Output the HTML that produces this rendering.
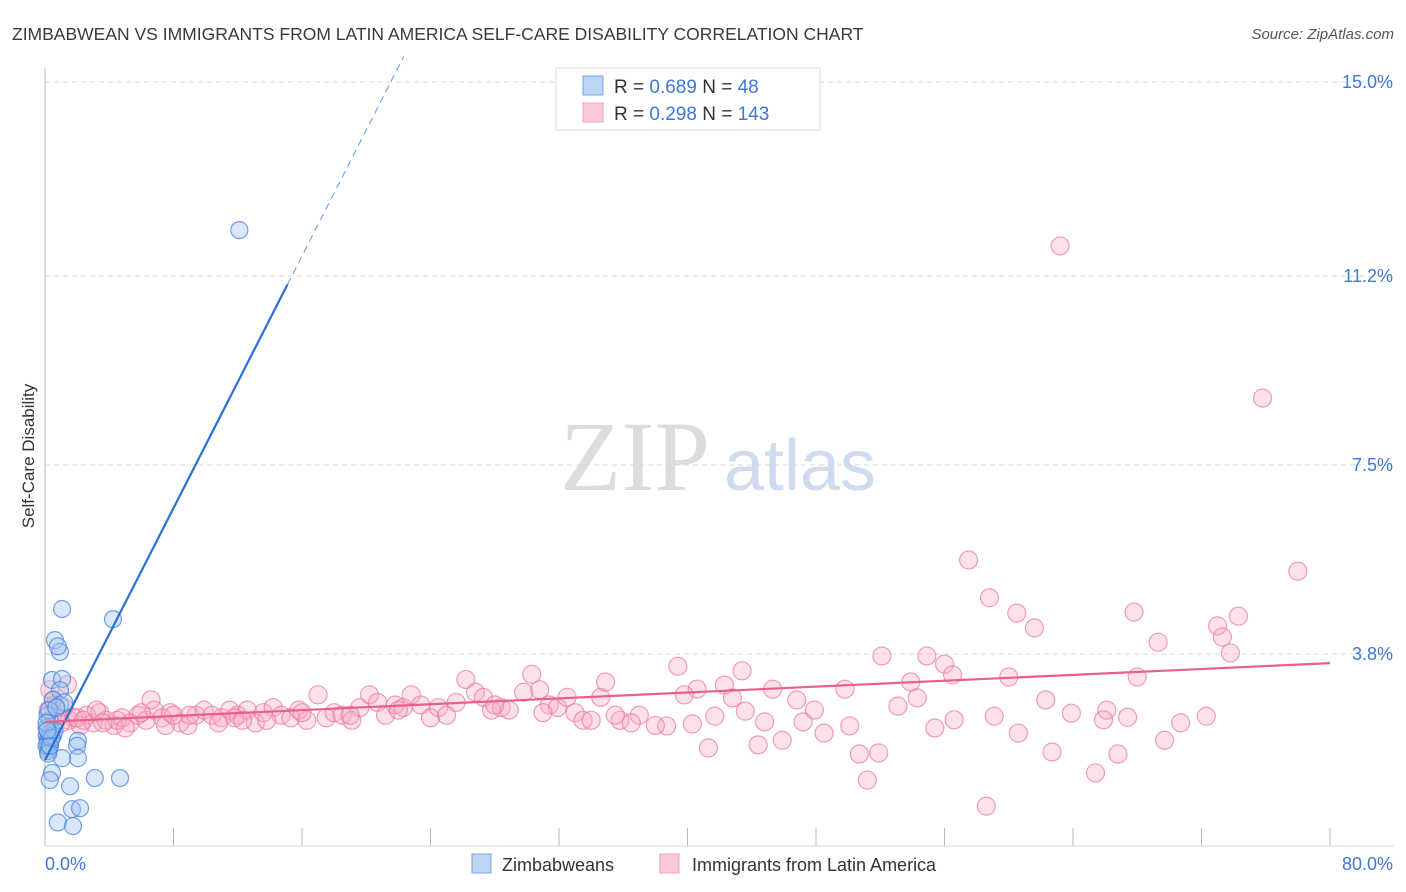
<!DOCTYPE html>
<html><head><meta charset="utf-8"><style>
body{margin:0;background:#fff;font-family:"Liberation Sans",sans-serif;}
svg{display:block}
</style></head><body>
<svg id="chart" width="1406" height="892" viewBox="0 0 1406 892" xmlns="http://www.w3.org/2000/svg">
<text x="12" y="40" font-size="17.5" fill="#3a3a3a" font-family="Liberation Sans">ZIMBABWEAN VS IMMIGRANTS FROM LATIN AMERICA SELF-CARE DISABILITY CORRELATION CHART</text>
<text x="1394" y="39" font-size="15" fill="#555" text-anchor="end" font-style="italic">Source: ZipAtlas.com</text>
<text transform="translate(34,456) rotate(-90)" font-size="17" fill="#333" text-anchor="middle">Self-Care Disability</text>
<g>
<text x="635" y="490" font-size="100" fill="#dcdcdc" font-family="Liberation Serif" text-anchor="middle">ZIP</text>
<text x="800" y="490" font-size="72" fill="#cfdcf0" text-anchor="middle">atlas</text>
</g>
<g id="grid"></g><g id="axes"></g><g id="pink"></g><g id="blue"></g><g id="lines"></g>
<g>
<rect x="556" y="68" width="264" height="62" fill="#fff" stroke="#ddd"/>
<rect x="583" y="76" width="20" height="19" fill="#bcd4f5" stroke="#7aa5e6"/>
<rect x="583" y="103" width="20" height="19" fill="#fbc9d7" stroke="#f0a0b8"/>
<text x="614" y="93" font-size="19" fill="#333">R = <tspan fill="#3e78d6">0.689</tspan>   N = <tspan fill="#3e78d6">  48</tspan></text>
<text x="614" y="120" font-size="19" fill="#333">R = <tspan fill="#3e78d6">0.298</tspan>   N = <tspan fill="#3e78d6">143</tspan></text>
</g>
<g>
<rect x="472" y="854" width="19" height="19" fill="#bcd4f5" stroke="#7aa5e6"/>
<text x="502" y="871" font-size="18" fill="#333">Zimbabweans</text>
<rect x="660" y="854" width="19" height="19" fill="#fbc9d7" stroke="#f0a0b8"/>
<text x="692" y="871" font-size="18" fill="#333">Immigrants from Latin America</text>
</g>
</svg>
<script>
const yTicks=[3.8,7.5,11.2,15.0];
const xTickLabels=["0.0%","80.0%"];
const blueX=[12.1,1.06,4.23,0.62,0.93,0.8,0.44,1.06,0.93,0.5,0.93,0.3,0.4,0.2,0.3,2.05,2.0,2.05,1.06,0.44,0.3,3.1,4.67,1.56,1.68,2.18,0.8,1.74,0.1,0.2,0.15,0.3,0.25,0.1,0.35,0.2,0.1,0.5,0.6,0.15,0.25,0.1,0.4,0.2,0.3,0.15,1.2,0.7];
const blueY=[12.1,4.68,4.48,4.07,3.84,3.95,3.29,3.31,3.09,2.9,2.8,2.5,2.3,2.1,2.0,2.1,2.0,1.76,1.76,1.47,1.33,1.37,1.37,1.21,0.76,0.78,0.5,0.43,2.2,2.15,2.05,2.25,1.95,2.35,2.1,1.9,2.0,2.2,2.3,2.6,2.7,2.45,2.15,1.85,2.0,2.3,2.85,2.75];
const pinkX=[63.2,75.8,57.5,78.0,58.8,60.5,61.6,67.8,74.3,73.0,73.3,69.3,73.8,52.1,54.9,56.0,56.5,39.4,43.4,60.0,68.0,53.9,42.3,49.8,45.3,40.6,39.8,54.3,46.8,62.3,42.8,41.3,44.4,45.9,50.7,51.9,51.2,58.6,62.7,65.4,66.8,69.7,60.6,55.4,48.5,50.1,40.3,38.7,41.7,44.8,47.2,53.1,56.6,59.1,63.9,66.1,65.9,67.4,70.7,72.3,47.9,43.6,37.0,35.8,36.5,38.0,
0.5,0.8,1.2,1.5,1.8,2.2,2.6,3.0,3.4,3.8,4.3,4.8,5.3,5.8,6.3,6.8,7.3,7.8,8.4,8.9,9.4,9.9,10.4,11.0,11.5,12.0,12.6,13.1,13.6,14.2,14.7,15.3,15.8,16.3,17.0,17.5,18.0,18.5,19.1,19.6,20.2,20.7,21.2,21.8,22.3,22.8,23.4,24.0,24.5,25.6,26.2,26.8,27.3,27.8,28.4,28.9,29.8,30.3,30.8,31.4,31.9,32.5,33.0,33.5,34.0,34.6,34.9,35.5,0.3,1.0,2.0,3.2,4.5,6.0,7.5,9.0,11.8,13.8,16.0,19.0,22.0,25.0,28.0,31.0,0.6,2.4,5.0,8.0,10.8,0.2,1.4,3.6,6.6,12.3];
const pinkY=[11.79,8.81,5.64,5.42,4.9,4.6,4.31,4.62,4.54,4.35,4.13,4.03,3.82,3.76,3.76,3.6,3.39,3.56,3.47,3.35,3.35,3.25,3.19,3.11,3.11,3.11,3.0,2.94,2.9,2.9,2.94,1.96,2.02,2.11,1.84,1.86,1.33,0.82,1.88,1.47,1.84,2.11,2.25,2.35,2.25,2.39,2.43,2.39,2.58,2.47,2.47,2.78,2.51,2.58,2.64,2.7,2.51,2.56,2.45,2.58,2.7,2.68,2.6,2.5,2.45,2.4,
2.9,2.6,2.75,2.5,2.55,2.4,2.6,2.45,2.65,2.5,2.4,2.55,2.45,2.6,2.5,2.7,2.55,2.65,2.45,2.4,2.6,2.7,2.6,2.55,2.7,2.6,2.7,2.45,2.65,2.75,2.6,2.55,2.7,2.5,3.0,2.55,2.65,2.6,2.5,2.75,3.0,2.85,2.6,2.8,2.75,3.0,2.8,2.55,2.75,2.85,3.3,3.05,2.95,2.7,2.75,2.7,3.05,3.4,3.1,2.8,2.75,2.95,2.65,2.5,2.5,2.95,3.25,2.6,3.1,2.45,2.55,2.7,2.5,2.65,2.4,2.6,2.55,2.5,2.65,2.6,2.7,2.6,2.8,2.65,2.8,2.5,2.35,2.6,2.45,2.7,3.2,2.45,2.9,2.5];
const blueLine=[1.72,0.617];
const pinkLine=[2.47,0.01438];
const X0=45,X1=1330,Y0=848,PX=(X1-X0)/80,PY=(848-82)/15;
const xs=v=>X0+v*PX, ys=v=>Y0-v*PY;
const NS="http://www.w3.org/2000/svg";
function mk(tag,parent,attrs){const e=document.createElementNS(NS,tag);for(const k in attrs)e.setAttribute(k,attrs[k]);document.getElementById(parent).appendChild(e);return e;}
yTicks.forEach(t=>{
 const l=mk('line','grid',{x1:X0,x2:1394,y1:ys(t),y2:ys(t),stroke:'#d8d8d8','stroke-dasharray':'5,4'});
 
 
 const tx=mk('text','grid',{x:1393,y:ys(t)+6,'font-size':18,fill:'#3e78d6','text-anchor':'end'});
 tx.textContent=t.toFixed(1)+'%';
 
 
});
const ax=mk('line','axes',{x1:X0,x2:X0,y1:68,y2:846,stroke:'#bbb'});


const bx=mk('line','axes',{x1:X0,x2:1394,y1:846,y2:846,stroke:'#ddd'});


for(let i=1;i<=10;i++){const t=mk('line','axes',{x1:xs(i*8),x2:xs(i*8),y1:828,y2:846,stroke:'#bbb'});
 
 }
[[0,'start',45],[1,'end',1393]].forEach(([i,a,x])=>{const t=mk('text','axes',{x:x,y:870,'font-size':18,fill:'#3e78d6','text-anchor':a});t.textContent=xTickLabels[i];
 
 });
pinkX.forEach((v,i)=>{const c=mk('circle','pink',{cx:xs(v),cy:ys(pinkY[i]),r:9,fill:'rgba(248,170,195,0.35)',stroke:'rgba(232,120,155,0.7)','stroke-width':1.2});
 
 });
blueX.forEach((v,i)=>{const c=mk('circle','blue',{cx:xs(v),cy:ys(blueY[i]),r:8.5,fill:'rgba(160,195,240,0.4)',stroke:'rgba(70,130,220,0.75)','stroke-width':1.2});
 
 });
const bEnd=15.1, bTop=(15.5-blueLine[0])/blueLine[1];
const bl=mk('line','lines',{x1:xs(0),y1:ys(blueLine[0]),x2:xs(bEnd),y2:ys(blueLine[0]+blueLine[1]*bEnd),stroke:'#2a6fd6','stroke-width':2.2});


const bd=mk('line','lines',{x1:xs(bEnd),y1:ys(blueLine[0]+blueLine[1]*bEnd),x2:xs(bTop),y2:ys(15.5),stroke:'#7aa5e6','stroke-width':1.2,'stroke-dasharray':'7,5'});


const pl=mk('line','lines',{x1:xs(0),y1:ys(pinkLine[0]),x2:xs(80),y2:ys(pinkLine[0]+pinkLine[1]*80),stroke:'#e8608a','stroke-width':2.2});


</script>
</body></html>
